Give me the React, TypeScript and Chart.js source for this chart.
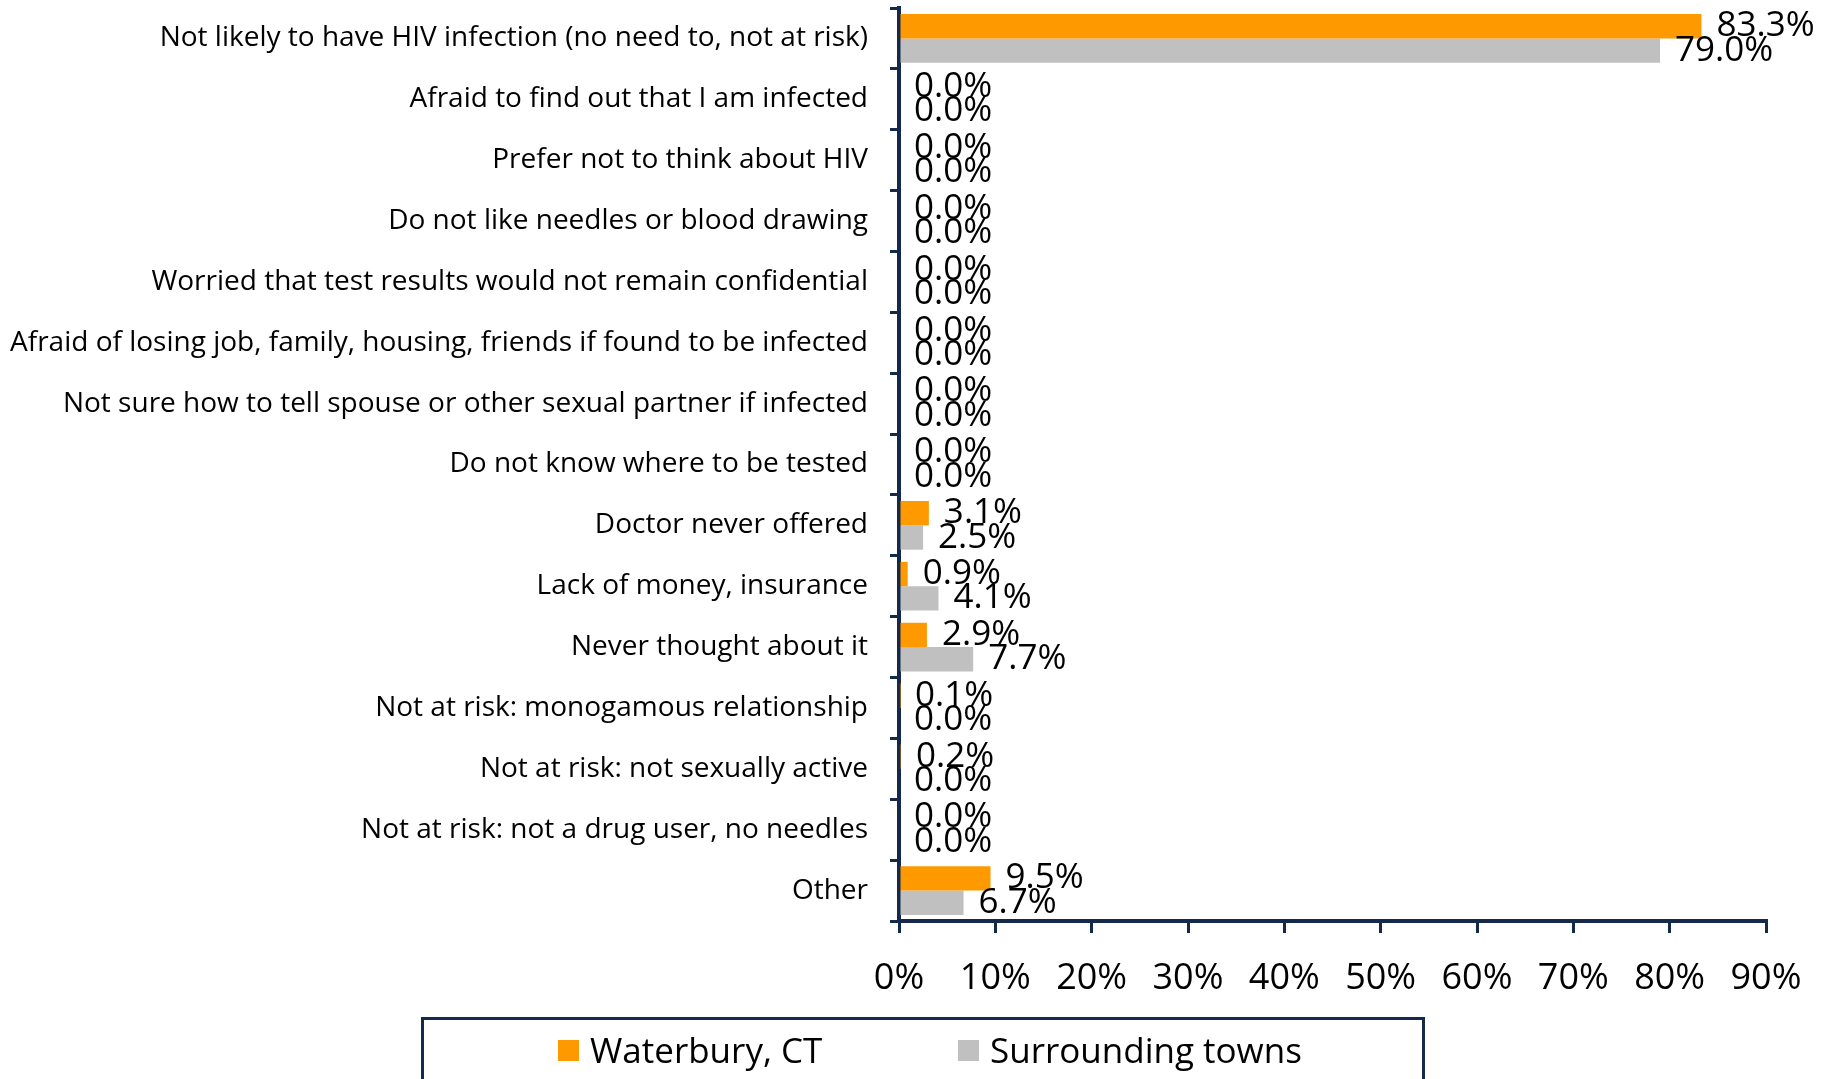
import React, { useEffect, useRef } from 'react';
import { Chart, registerables } from 'chart.js';

Chart.register(...registerables);

const categories = [
  'Not likely to have HIV infection (no need to, not at risk)',
  'Afraid to find out that I am infected',
  'Prefer not to think about HIV',
  'Do not like needles or blood drawing',
  'Worried that test results would not remain confidential',
  'Afraid of losing job, family, housing, friends if found to be infected',
  'Not sure how to tell spouse or other sexual partner if infected',
  'Do not know where to be tested',
  'Doctor never offered',
  'Lack of money, insurance',
  'Never thought about it',
  'Not at risk: monogamous relationship',
  'Not at risk: not sexually active',
  'Not at risk: not a drug user, no needles',
  'Other',
];

const waterbury = [83.3, 0, 0, 0, 0, 0, 0, 0, 3.1, 0.9, 2.9, 0.1, 0.2, 0, 9.5];
const surrounding = [79.0, 0, 0, 0, 0, 0, 0, 0, 2.5, 4.1, 7.7, 0, 0, 0, 6.7];

const seriesNames = ['Waterbury, CT', 'Surrounding towns'];
const seriesColors = ['#FF9900', '#C0C0C0'];

const xMin = 0;
const xMax = 90;
const xStep = 10;

const NAVY = '#15294B';
const FONT = '"Open Sans", "Noto Sans", sans-serif';

const W = 1829;
const H = 1079;
const AXIS_LEFT = 899;
const AXIS_RIGHT = 1766;
const PLOT_TOP = 8;
const PLOT_BOTTOM = 921;

const valueLabels = {
  id: 'valueLabels',
  afterDatasetsDraw(chart: any) {
    const ctx = chart.ctx;
    ctx.save();
    ctx.font = `35px ${FONT}`;
    ctx.fillStyle = '#000';
    ctx.textAlign = 'left';
    ctx.textBaseline = 'middle';
    chart.data.datasets.forEach((ds: any, di: number) => {
      const meta = chart.getDatasetMeta(di);
      meta.data.forEach((el: any, i: number) => {
        const v = ds.data[i] as number;
        ctx.fillText(v.toFixed(1) + '%', el.x + 15, el.y);
      });
    });
    ctx.restore();
  },
};

export default function App() {
  const ref = useRef<HTMLCanvasElement | null>(null);

  useEffect(() => {
    if (!ref.current) return;
    const chart = new Chart(ref.current, {
      type: 'bar',
      data: {
        labels: categories,
        datasets: [
          {
            label: seriesNames[0],
            data: waterbury,
            backgroundColor: seriesColors[0],
            categoryPercentage: 0.8,
            barPercentage: 1.0,
          },
          {
            label: seriesNames[1],
            data: surrounding,
            backgroundColor: seriesColors[1],
            categoryPercentage: 0.8,
            barPercentage: 1.0,
          },
        ],
      },
      options: {
        indexAxis: 'y',
        animation: false,
        responsive: false,
        maintainAspectRatio: false,
        layout: { padding: { left: 0, right: W - AXIS_RIGHT, top: PLOT_TOP, bottom: 0 } },
        plugins: {
          legend: { display: false },
          tooltip: { enabled: false },
        },
        scales: {
          y: {
            type: 'category',
            position: 'left',
            offset: true,
            grid: {
              display: true,
              drawOnChartArea: false,
              drawTicks: true,
              tickLength: 9,
              color: NAVY,
              lineWidth: 3,
              offset: true,
            },
            border: { display: true, color: NAVY, width: 4 },
            ticks: {
              autoSkip: false,
              padding: 22,
              color: '#000',
              font: { family: FONT, size: 28 },
            },
            afterFit: (scale: any) => {
              scale.width = AXIS_LEFT;
              scale.paddingTop = 0;
              scale.paddingBottom = 0;
            },
          },
          x: {
            type: 'linear',
            position: 'bottom',
            min: xMin,
            max: xMax,
            grid: {
              display: true,
              drawOnChartArea: false,
              drawTicks: true,
              tickLength: 12,
              color: NAVY,
              lineWidth: 3,
            },
            border: { display: true, color: NAVY, width: 4 },
            ticks: {
              stepSize: xStep,
              padding: 24,
              color: '#000',
              font: { family: FONT, size: 36 },
              callback: (v: any) => `${v}%`,
              maxRotation: 0,
            },
            afterFit: (scale: any) => {
              scale.height = H - PLOT_BOTTOM;
              scale.paddingLeft = 0;
              scale.paddingRight = 0;
            },
          },
        },
      },
      plugins: [valueLabels],
    });
    return () => chart.destroy();
  }, []);

  const legendItem = (left: number, color: string, text: string) => (
    <div style={{ position: 'absolute', left, top: 1017, height: 66, display: 'flex', alignItems: 'center' }}>
      <div style={{ width: 21, height: 21, background: color, marginRight: 11 }} />
      <span style={{ fontFamily: FONT, fontSize: 35, color: '#000', lineHeight: '66px' }}>{text}</span>
    </div>
  );

  return (
    <div style={{ position: 'fixed', left: 0, top: 0, width: W, height: H, overflow: 'hidden', background: '#fff' }}>
      <canvas ref={ref} width={W} height={H} style={{ position: 'absolute', left: 0, top: 0, width: W, height: H }} />
      <div
        style={{
          position: 'absolute',
          left: 421,
          top: 1017,
          width: 1004,
          height: 120,
          border: `3px solid ${NAVY}`,
          boxSizing: 'border-box',
        }}
      />
      {legendItem(558, seriesColors[0], seriesNames[0])}
      {legendItem(958, seriesColors[1], seriesNames[1])}
    </div>
  );
}
